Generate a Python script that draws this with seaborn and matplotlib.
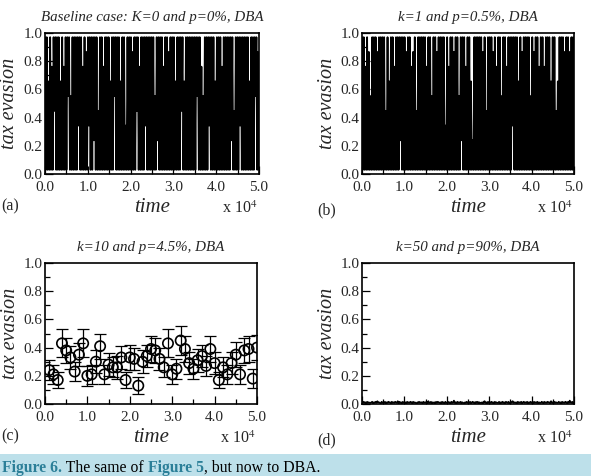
import numpy as np
import matplotlib
matplotlib.use("Agg")
import matplotlib.pyplot as plt
import seaborn as sns
from matplotlib.patches import Rectangle
from matplotlib.ticker import MultipleLocator, FuncFormatter

# two-state traces, one digit per sample (0 = low state, 9 = high state)
trace_a = (
    "9090609070" "9490909060" "9070909590" "5090909093" "9090709080"
    "9390909290" "9040909070" "9090906090" "9590909060" "9090309090"
    "9080909490" "7090909390" "9090909050" "9290909070" "9090809090"
    "9060909094" "9060909090" "9090909590" "9070509090" "9390909060"
    "9090907090" "9090909290" "4090909390" "9090909060" "9090959080"
)
trace_b = (
    "9090709080" "5090909080" "9090909040" "9060909070" "9090929090"
    "9080909070" "8090409090" "9090907090" "9050909080" "9090909030"
    "9070909080" "9090509290" "9070909060" "2090909090" "9080904090"
    "9090809070" "9090509090" "7090909390" "9090609080" "9090909050"
    "9080909070" "9090709090" "9060909040" "6090909080" "9090809090"
)
# near-zero trace of panel (d), one digit per sample
trace_d = (
    "2131203121" "1230213142" "2103121302" "1322031213" "2140312031"
    "1203121320" "3121021312" "2031213041" "1302120313" "2120312031"
    "1312031251" "2031213021" "0213121302" "3120313021" "1203412031"
    "2131203121" "1302131203" "2130213412" "1203121302" "3121302131"
    "2031213021" "1320312132" "2041203121" "1312031213" "2031521302"
)

# panel (c): averaged evasion with error bars, time in units of 10^4
time_c = [0.1, 0.2, 0.3, 0.4, 0.5, 0.6, 0.7, 0.8, 0.9, 1.0,
          1.1, 1.2, 1.3, 1.4, 1.5, 1.6, 1.7, 1.8, 1.9, 2.0,
          2.1, 2.2, 2.3, 2.4, 2.5, 2.6, 2.7, 2.8, 2.9, 3.0,
          3.1, 3.2, 3.3, 3.4, 3.5, 3.6, 3.7, 3.8, 3.9, 4.0,
          4.1, 4.2, 4.3, 4.4, 4.5, 4.6, 4.7, 4.8, 4.9, 5.0]
evasion_c = [0.24, 0.21, 0.17, 0.43, 0.38, 0.33, 0.23, 0.35, 0.43, 0.20,
             0.21, 0.30, 0.41, 0.21, 0.28, 0.26, 0.26, 0.33, 0.17, 0.33,
             0.32, 0.13, 0.30, 0.34, 0.39, 0.38, 0.32, 0.26, 0.43, 0.21,
             0.25, 0.45, 0.39, 0.29, 0.25, 0.31, 0.34, 0.27, 0.39, 0.29,
             0.17, 0.26, 0.21, 0.29, 0.35, 0.21, 0.38, 0.39, 0.18, 0.40]
err_c = [0.07, 0.07, 0.06, 0.10, 0.09, 0.08, 0.07, 0.08, 0.10, 0.07,
         0.07, 0.08, 0.09, 0.07, 0.08, 0.07, 0.08, 0.08, 0.06, 0.09,
         0.08, 0.06, 0.08, 0.08, 0.09, 0.09, 0.08, 0.07, 0.10, 0.07,
         0.07, 0.10, 0.09, 0.08, 0.07, 0.08, 0.08, 0.07, 0.09, 0.08,
         0.06, 0.07, 0.07, 0.08, 0.09, 0.07, 0.09, 0.09, 0.07, 0.09]

titles = ["Baseline case: K=0 and p=0%, DBA", "k=1 and p=0.5%, DBA",
          "k=10 and p=4.5%, DBA", "k=50 and p=90%, DBA"]
panel_tags = ["(a)", "(b)", "(c)", "(d)"]


def decode(trace, lo, hi):
    d = np.array([int(c) for c in trace])
    return lo + d * (hi - lo) / 9.0


sns.set_theme(style="ticks")
plt.rcParams["font.family"] = ["Liberation Serif", "DejaVu Serif"]
plt.rcParams["mathtext.fontset"] = "stix"

W, H = 591, 476
fig = plt.figure(figsize=(W / 100, H / 100), dpi=100)

# axes boxes in pixels: left, top, right, bottom
boxes = [(45, 33, 259, 174), (362, 33, 574, 174),
         (45, 263, 257, 404), (362, 263, 574, 404)]
axes = []
for l, t, r, b in boxes:
    axes.append(fig.add_axes([l / W, 1 - b / H, (r - l) / W, (b - t) / H]))

ta = np.linspace(0, 5e4, len(trace_a))
sns.lineplot(x=ta, y=decode(trace_a, 0.03, 0.97), ax=axes[0],
             color="black", lw=1.3, estimator=None)
tb = np.linspace(0, 5e4, len(trace_b))
sns.lineplot(x=tb, y=decode(trace_b, 0.03, 0.97), ax=axes[1],
             color="black", lw=1.3, estimator=None)
td = np.linspace(0, 5e4, len(trace_d))
sns.lineplot(x=td, y=decode(trace_d, 0.004, 0.04), ax=axes[3],
             color="black", lw=1.2, estimator=None)

tc = np.array(time_c) * 1e4
axes[2].errorbar(tc, evasion_c, yerr=err_c, fmt="none", ecolor="black",
                 elinewidth=0.9, capsize=4.5, capthick=0.9)
sns.scatterplot(x=tc, y=evasion_c, ax=axes[2], marker="o", s=55,
                facecolor="none", edgecolor="black", linewidth=1.2)

fmt = FuncFormatter(lambda v, pos: f"{v / 1e4:.1f}")
for i, ax in enumerate(axes):
    ax.set_xlim(0, 5e4)
    ax.set_ylim(0, 1)
    ax.xaxis.set_major_locator(MultipleLocator(1e4))
    ax.xaxis.set_minor_locator(MultipleLocator(5e3))
    ax.yaxis.set_major_locator(MultipleLocator(0.2))
    ax.yaxis.set_minor_locator(MultipleLocator(0.1))
    ax.xaxis.set_major_formatter(fmt)
    ax.yaxis.set_major_formatter(FuncFormatter(lambda v, pos: f"{v:.1f}"))
    ax.tick_params(which="both", direction="in", top=False, right=False,
                   labelsize=11, color="black")
    ax.tick_params(axis="y", pad=2)
    ax.tick_params(axis="x", pad=5)
    ax.tick_params(which="major", length=6, width=0.9)
    ax.tick_params(which="minor", length=3.5, width=0.9)
    for s in ax.spines.values():
        s.set_visible(True)
        s.set_linewidth(1.2)
        s.set_color("black")
    ax.set_xlabel("")
    ax.set_ylabel("")
    ax.set_title(titles[i], fontsize=10.8, style="italic", pad=9)
    ax.text(0.5, -0.241, "time", transform=ax.transAxes, ha="center",
            va="center", fontsize=15, style="italic")
    ax.text(-0.164, 0.5, "tax evasion", transform=ax.transAxes, ha="center",
            va="center", fontsize=14.5, style="italic", rotation=90)
    ax.text(0.825, -0.277, "x 10$^4$", transform=ax.transAxes, ha="left",
            va="baseline", fontsize=11.5)

tag_pos = [(1, 206), (317, 210), (1, 436), (317, 440)]
for tag, (x, y) in zip(panel_tags, tag_pos):
    fig.text(x / W, 1 - y / H, tag, ha="left", va="center", fontsize=11.5)

# caption strip
fig.patches.append(Rectangle((0, 0), 1, 22 / H, transform=fig.transFigure,
                             facecolor="#bde0ea", edgecolor="none", zorder=0))
renderer = fig.canvas.get_renderer()
parts = [("Figure 6.", "#2b7f98", "bold"), (" The same of ", "black", "normal"),
         ("Figure 5", "#2b7f98", "bold"), (", but now to DBA.", "black", "normal")]
xpix = 2
for txt, col, wt in parts:
    t = fig.text(xpix / W, 1 - 472 / H, txt, color=col, fontweight=wt,
                 fontsize=11.3, ha="left", va="baseline")
    xpix += t.get_window_extent(renderer).width

fig.savefig("out.png", dpi=100)
